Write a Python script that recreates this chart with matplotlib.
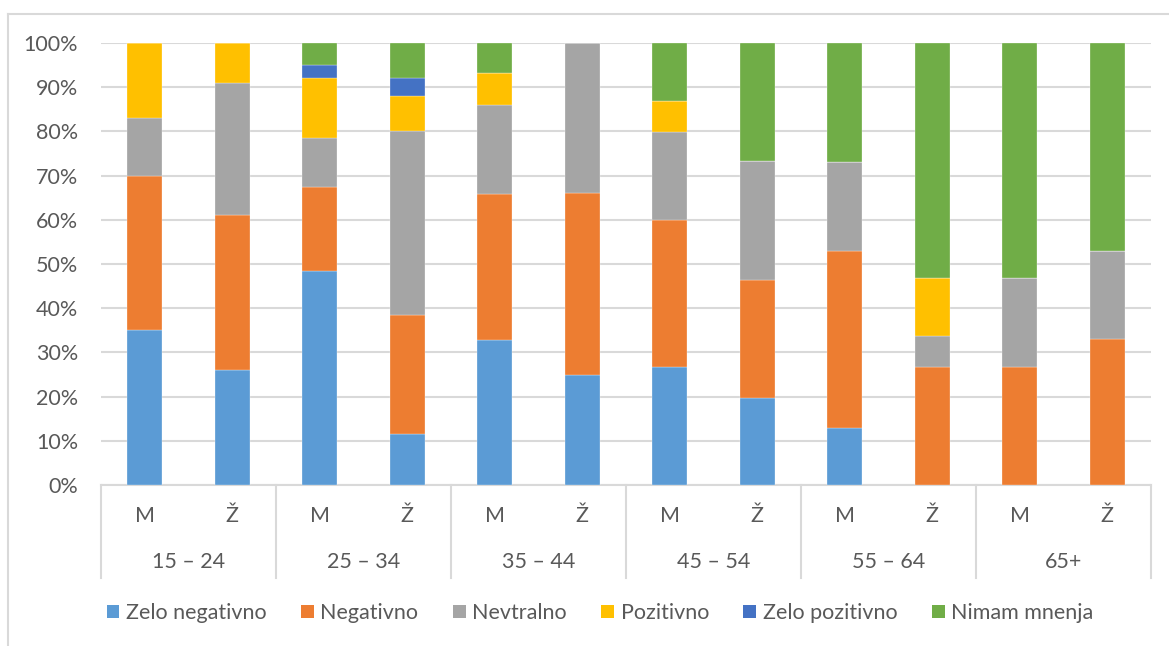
import numpy as np
import matplotlib
matplotlib.use("Agg")
import matplotlib.pyplot as plt
from matplotlib.lines import Line2D
from matplotlib.patches import Patch
import matplotlib.transforms as mtransforms

plt.rcParams['font.family'] = ['Lato', 'DejaVu Sans']

age_groups = ["15 – 24", "25 – 34", "35 – 44", "45 – 54", "55 – 64", "65+"]
sexes = ["M", "Ž"]

series_names = ["Zelo negativno", "Negativno", "Nevtralno", "Pozitivno", "Zelo pozitivno", "Nimam mnenja"]
colors = ["#5B9BD5", "#ED7D31", "#A5A5A5", "#FFC000", "#4472C4", "#70AD47"]

# values per bar: 15-24 M, 15-24 Ž, 25-34 M, 25-34 Ž, ... 65+ Ž
zelo_negativno = [35.0, 26.0, 48.5, 11.6, 32.8, 24.8, 26.8, 19.6, 13.0, 0.0, 0.0, 0.0]
negativno = [35.0, 35.0, 18.9, 26.9, 33.1, 41.3, 33.1, 26.8, 40.0, 26.8, 26.8, 33.0]
nevtralno = [13.0, 30.0, 11.0, 41.6, 20.0, 33.9, 20.0, 26.8, 20.0, 7.0, 20.0, 20.0]
pozitivno = [17.0, 9.0, 13.7, 8.0, 7.2, 0.0, 7.0, 0.0, 0.0, 13.1, 0.0, 0.0]
zelo_pozitivno = [0.0, 0.0, 3.0, 4.0, 0.0, 0.0, 0.0, 0.0, 0.0, 0.0, 0.0, 0.0]
nimam_mnenja = [0.0, 0.0, 4.9, 7.9, 6.9, 0.0, 13.1, 26.8, 27.0, 53.1, 53.2, 47.0]

data = [zelo_negativno, negativno, nevtralno, pozitivno, zelo_pozitivno, nimam_mnenja]

text_color = "#595959"
grid_color = "#D9D9D9"
fs = 15.5

fig = plt.figure(figsize=(11.69, 6.46), dpi=100)
W, H = 1169, 646
ax = fig.add_axes([101 / W, (H - 485) / H, 1050 / W, 442 / H])

x = np.arange(len(zelo_negativno))
bottom = np.zeros(len(x))
for name, vals, col in zip(series_names, data, colors):
    vals = np.array(vals)
    ax.bar(x, vals, 0.4, bottom=bottom, color=col, edgecolor="white", linewidth=0.2, zorder=3)
    bottom += vals

ax.set_xlim(-0.5, len(x) - 0.5)
ax.set_ylim(0, 100)
ax.set_yticks(np.arange(0, 101, 10))
ax.set_yticklabels([f"{v}%" for v in range(0, 101, 10)])
ax.yaxis.grid(True, color=grid_color, linewidth=1.5, zorder=0)
ax.tick_params(axis='y', length=0, pad=16.5, labelsize=fs, labelcolor=text_color)
ax.set_xticks([])
for s in ["top", "right", "left"]:
    ax.spines[s].set_visible(False)
ax.spines["bottom"].set_color(grid_color)
ax.spines["bottom"].set_linewidth(1.5)

# two-level category axis
trans = mtransforms.blended_transform_factory(ax.transData, ax.transAxes)
for i in range(len(x)):
    ax.text(x[i], -0.07, sexes[i % 2], transform=trans, ha="center", va="center",
            fontsize=fs, color=text_color)
for g, name in enumerate(age_groups):
    ax.text(2 * g + 0.5, -0.174, name, transform=trans, ha="center", va="center",
            fontsize=fs, color=text_color)
for g in range(len(age_groups) + 1):
    ax.plot([2 * g - 0.5, 2 * g - 0.5], [0, -0.21], transform=trans, color=grid_color,
            linewidth=1.5, clip_on=False)

handles = [Patch(facecolor=c, edgecolor="none") for c in colors]
leg = fig.legend(handles, series_names, loc="center", bbox_to_anchor=(600 / W, (H - 613) / H),
                 ncol=6, frameon=False, fontsize=fs, handlelength=0.6, handleheight=0.6,
                 handletextpad=0.3, columnspacing=1.6)
for t in leg.get_texts():
    t.set_color(text_color)

# chart border
fig.add_artist(Line2D([8 / W, 8 / W], [0, (H - 14) / H], color=grid_color, linewidth=1.5))
fig.add_artist(Line2D([8 / W, 1], [(H - 14) / H, (H - 14) / H], color=grid_color, linewidth=1.5))

fig.savefig("out.png", dpi=100, facecolor="white")
